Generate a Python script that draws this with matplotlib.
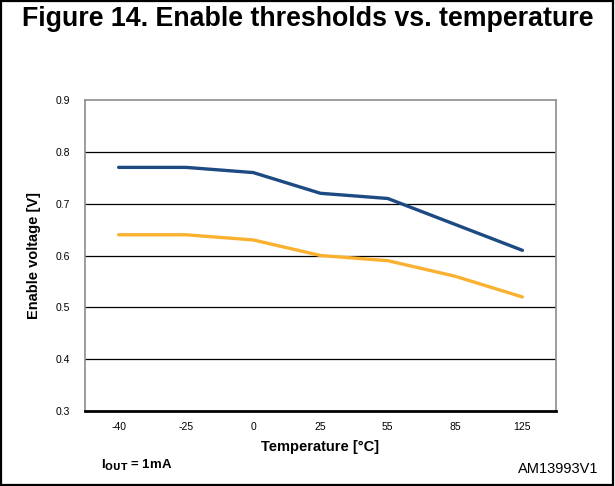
import numpy as np
import matplotlib.pyplot as plt
from matplotlib.patches import Rectangle

plt.rcParams['font.family'] = ['Liberation Sans', 'DejaVu Sans']

# data
temps = ['-40', '-25', '0', '25', '55', '85', '125']
v_high = [0.77, 0.77, 0.76, 0.72, 0.71, 0.66, 0.61]
v_low = [0.64, 0.64, 0.63, 0.60, 0.59, 0.56, 0.52]
yticks = [0.3, 0.4, 0.5, 0.6, 0.7, 0.8, 0.9]

fig = plt.figure(figsize=(6.15, 4.86), dpi=100)
# outer frame
fig.patches.append(Rectangle((0.002, 0.003), 0.995, 0.994, transform=fig.transFigure,
                             fill=False, edgecolor='black', linewidth=1.6))

fig.text(0.5, 0.96, 'Figure 14. Enable thresholds vs. temperature', ha='center', va='center',
         fontsize=19.3, fontweight='bold')

ax = fig.add_axes([85/615, 1 - 411/486, (556-85)/615, (411-100)/486])
x = np.arange(len(temps))
ax.plot(x, v_high, color='#1d4a82', linewidth=2.4, solid_capstyle='round')
ax.plot(x, v_low, color='#fbb130', linewidth=2.4, solid_capstyle='round')

ax.set_xlim(-0.5, len(temps) - 0.5)
ax.set_ylim(0.3, 0.9)
ax.set_yticks(yticks)
ax.set_yticklabels(['%.1f' % v for v in yticks])
ax.set_xticks(x)
ax.set_xticklabels(temps)
ax.tick_params(length=0, labelsize=7.5, pad=8)
ax.tick_params(axis='y', pad=11)

for y in yticks[1:-1]:
    ax.axhline(y, color='black', linewidth=0.9, zorder=0)

for s in ['top', 'left', 'right']:
    ax.spines[s].set_color('#8c8c8c')
    ax.spines[s].set_linewidth(1.2)
ax.spines['bottom'].set_color('black')
ax.spines['bottom'].set_linewidth(2)

ax.set_xlabel('Temperature [°C]', fontsize=10.5, fontweight='bold', labelpad=6)
ax.set_ylabel('Enable voltage [V]', fontsize=10.5, fontweight='bold', labelpad=10)

fig.text(101/615, 1 - 465/486, r'I$_{\mathbf{OUT}}$ = 1mA', fontsize=9.5, fontweight='bold',
         ha='left', va='center')
fig.text(598/615, 1 - 469/486, 'AM13993V1', fontsize=10.5, ha='right', va='center')

fig.savefig('out.png', dpi=100)
